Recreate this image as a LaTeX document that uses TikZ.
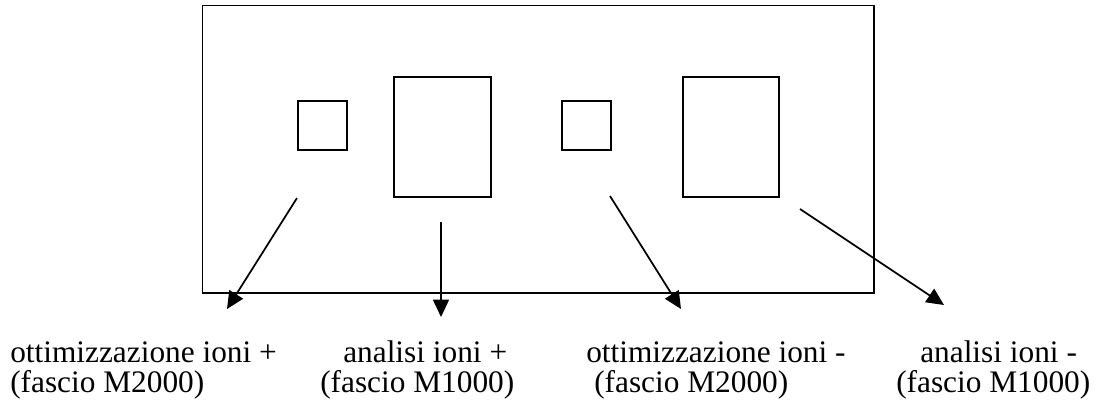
\documentclass[tikz,border=0pt]{standalone}
\usepackage{fontspec}
\setmainfont{Liberation Serif}
\usetikzlibrary{arrows.meta}
\begin{document}
\begin{tikzpicture}[x=0.75pt,y=-0.75pt,
  box/.style={draw, line width=1.3pt, inner sep=0pt},
  ptr/.style={line width=1.3pt, -{Triangle[length=13pt,width=12pt]}},
  lbl/.style={anchor=base west, inner sep=0pt, font=\fontsize{23.5}{28}\selectfont}]
\useasboundingbox (0,0) rectangle (1097,404);
\node[box, minimum width=503.6pt, minimum height=215.6pt] (outer) at (538.25,149.25) {};
\node[box, minimum width=36.75pt, minimum height=36.75pt] (sq1) at (322.5,125.5) {};
\node[box, minimum width=72.5pt, minimum height=90pt] (big1) at (442.65,137.3) {};
\node[box, minimum width=36.75pt, minimum height=36.75pt] (sq2) at (586.85,125.5) {};
\node[box, minimum width=72pt, minimum height=90pt] (big2) at (730.7,137.3) {};
\coordinate (s1) at (297,198);
\coordinate (t1) at (227,309);
\coordinate (s2) at (441,222);
\coordinate (t2) at (441,317);
\coordinate (s3) at (610,196);
\coordinate (t3) at (681,309);
\coordinate (s4) at (800,209);
\coordinate (t4) at (944,305);
\draw[ptr] (s1) -- (t1);
\draw[ptr] (s2) -- (t2);
\draw[ptr] (s3) -- (t3);
\draw[ptr] (s4) -- (t4);
\node[lbl] (l1a) at (10,362) {ottimizzazione ioni +};
\node[lbl] (l1b) at (10,392) {(fascio M2000)};
\node[lbl] (l2a) at (343,362) {analisi ioni +};
\node[lbl] (l2b) at (320,392) {(fascio M1000)};
\node[lbl] (l3a) at (586,362) {ottimizzazione ioni -};
\node[lbl] (l3b) at (594,392) {(fascio M2000)};
\node[lbl] (l4a) at (920,362) {analisi ioni -};
\node[lbl] (l4b) at (896,392) {(fascio M1000)};
\end{tikzpicture}
\end{document}
